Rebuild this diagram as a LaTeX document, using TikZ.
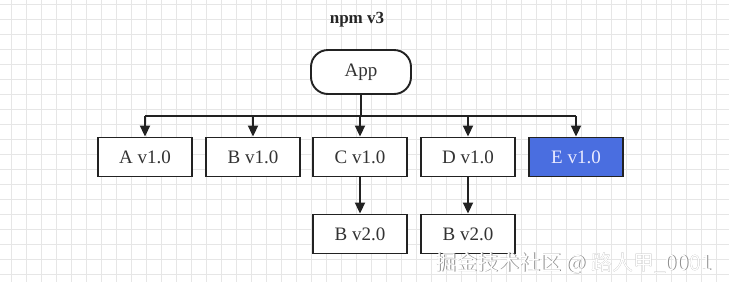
\documentclass[tikz,border=0pt]{standalone}
\usepackage{fontspec}
\setmainfont{Liberation Serif}
\newfontfamily\cjk{Noto Sans CJK SC}
\usetikzlibrary{arrows.meta}
\definecolor{gridc}{HTML}{E6E6E6}
\definecolor{linec}{HTML}{222222}
\definecolor{eblue}{HTML}{4A6EE0}
\tikzset{
  pkg/.style={draw=linec, line width=1.9pt, fill=white, minimum width=94pt, minimum height=39pt, inner sep=0pt, font=\fontsize{19}{21}\selectfont, text=black!80},
  appbox/.style={pkg, rounded corners=17pt, minimum width=100pt, minimum height=44pt},
  conn/.style={draw=linec, line width=1.9pt},
  arr/.style={conn, -{Triangle[length=11pt,width=10pt]}},
}
\begin{document}
\begin{tikzpicture}[x=1pt,y=-1pt]
\useasboundingbox (0,0) rectangle (729,282);
\fill[white] (0,0) rectangle (729,282);
% grid
\foreach \gx in {11,26,...,729} \draw[gridc, line width=0.8pt] (\gx,0) -- (\gx,282);
\foreach \gy in {4,19,...,282} \draw[gridc, line width=0.8pt] (0,\gy) -- (729,\gy);
% title
\node[font=\bfseries\fontsize{17}{19}\selectfont, text=black!85] (title) at (357,20) {npm v3};
% nodes
\node[appbox] (app) at (361,72) {App};
\node[pkg] (a) at (145,157) {A v1.0};
\node[pkg] (b) at (253,157) {B v1.0};
\node[pkg] (c) at (360,157) {C v1.0};
\node[pkg] (d) at (468,157) {D v1.0};
\node[pkg, fill=eblue, text=white!92!blue] (e) at (576,157) {E v1.0};
\node[pkg] (cb) at (360,234) {B v2.0};
\node[pkg] (db) at (468,234) {B v2.0};
% connectors
\coordinate (bus) at (361,116);
\draw[conn] (app.south) -- (bus);
\draw[conn] (bus -| a.north) -- (bus -| e.north);
\foreach \n in {a,b,c,d,e} \draw[arr] (bus -| \n.north) -- (\n.north);
\draw[arr] (c.south) -- (cb.north);
\draw[arr] (d.south) -- (db.north);
% watermark
\node[font=\cjk\fontsize{21}{23}\selectfont, text=black!45, anchor=east] (wms) at (716.8,263.8) {掘金技术社区 @ 路人甲\_0001};
\node[font=\cjk\fontsize{21}{23}\selectfont, text=white, anchor=east] (wm) at (716,263) {掘金技术社区 @ 路人甲\_0001};
\end{tikzpicture}
\end{document}
